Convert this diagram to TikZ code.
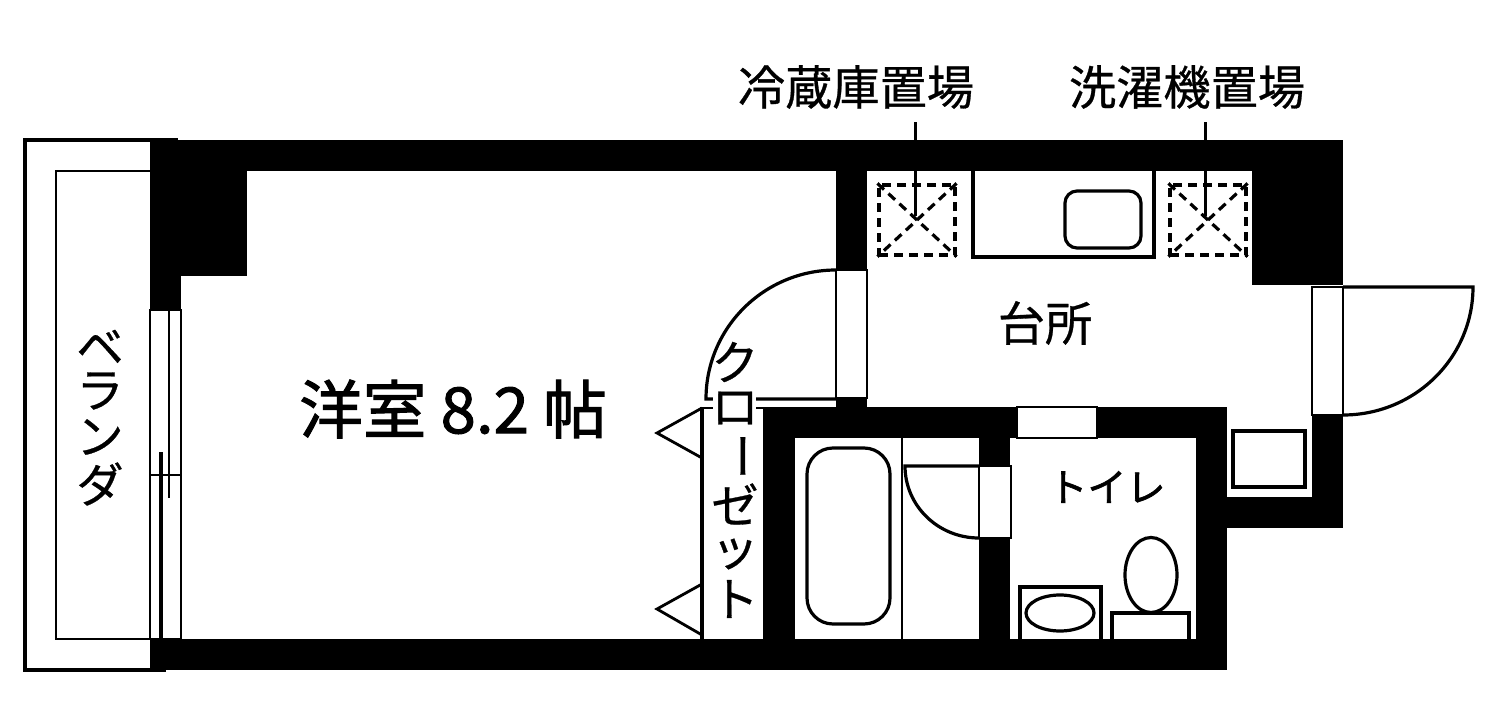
\documentclass[tikz,border=0pt]{standalone}
\usepackage{fontspec}
\newfontfamily\jpfont[FakeBold=0.6]{Noto Sans CJK JP}
\newfontfamily\jpheavyfont[FakeBold=1.6]{Noto Sans CJK JP}
\tikzset{
	wall/.style={fill=black},
	thinline/.style={draw=black, line width=1.4pt},
	fixture/.style={draw=black, line width=1.6pt},
	frame/.style={draw=black, line width=1.4pt, fill=white},
	dashline/.style={draw=black, line width=1.6pt, dash pattern=on 4.5pt off 3pt},
	jplabel/.style={inner sep=0pt, font=\jpfont\fontsize{23.6}{28}\selectfont},
	bigjplabel/.style={inner sep=0pt, font=\jpheavyfont\fontsize{31.8}{38}\selectfont},
	smalljplabel/.style={inner sep=0pt, font=\jpheavyfont\fontsize{19.5}{23}\selectfont}
}
\begin{document}
\begin{tikzpicture}[x=0.5pt, y=-0.5pt]
	\useasboundingbox (0,0) rectangle (1500,712);

	\draw[fixture] (178,140) -- (25,140) -- (25,670) -- (166,670);
	\draw[thinline] (150,171) -- (56,171) -- (56,639) -- (150,639);

	\foreach \xa/\ya/\xb/\yb in {150/140/1343/171, 150/140/247/276, 150/276/181/310, 150/639/1227/670,
			836/171/867/270, 836/398/867/407, 763/407/1227/438, 763/407/795/639,
			979/438/1010/466, 979/538/1010/639, 1196/407/1227/670,
			1227/497/1343/528, 1312/415/1343/528, 1252/171/1343/285}
		\fill[wall] (\xa,\ya) rectangle (\xb,\yb);

	\draw[frame] (150,310) rectangle (181,639);
	\draw[thinline] (169,310) -- (169,498);
	\draw[fixture] (161,452) -- (161,639);
	\draw[thinline] (150,475) -- (181,475);

	\draw[frame] (836,270) rectangle (867,398);
	\draw[fixture] (836,399) -- (706,399) arc[start angle=180, end angle=270, x radius=130, y radius=129];
	\draw[frame] (1312,287) rectangle (1343,415);
	\draw[fixture] (1343,415) arc[start angle=90, end angle=0, x radius=130, y radius=128] -- (1343,287);
	\draw[frame] (979,466) rectangle (1011,538);
	\draw[fixture] (979,466) -- (905,466) arc[start angle=180, end angle=90, x radius=74, y radius=72];
	\draw[frame] (1017,407) rectangle (1097,438);

	\draw[fixture] (702,407) -- (702,639);
	\draw[thinline] (702,408) -- (763,408);
	\draw[thinline] (702,408) -- (657,433) -- (702,458);
	\draw[thinline] (702,584) -- (657,609) -- (702,635);
	\fill[white] (713,392) rectangle (756,431);

	\draw[thinline] (902,438) -- (902,639);
	\draw[fixture, rounded corners=13pt] (807,448) rectangle (890,624);

	\draw[fixture] (1020,639) -- (1020,587) -- (1101,587) -- (1101,639);
	\draw[fixture] (1060,613) ellipse[x radius=34, y radius=18];
	\draw[fixture] (1112,639) -- (1112,613) -- (1189,613) -- (1189,639);
	\draw[fixture] (1151,575) ellipse[x radius=26, y radius=37.5];
	\draw[fixture] (1233,431) rectangle (1305,487);

	\draw[fixture] (973,171) -- (973,257) -- (1154,257) -- (1154,171);
	\draw[fixture, rounded corners=6pt] (1065,191) rectangle (1141,248);

	\node[dashline, minimum width=38pt, minimum height=35pt, inner sep=0pt] (fridge) at (917,220) {};
	\node[dashline, minimum width=38pt, minimum height=35pt, inner sep=0pt] (washer) at (1208,220) {};
	\draw[dashline] (fridge.north west) -- (fridge.south east) (fridge.north east) -- (fridge.south west);
	\draw[dashline] (washer.north west) -- (washer.south east) (washer.north east) -- (washer.south west);

	\node[jplabel] (fridgelabel) at (856,87) {冷蔵庫置場};
	\node[jplabel] (washerlabel) at (1187,87) {洗濯機置場};
	\coordinate (fridgetop) at (915.5,122);
	\coordinate (fridgeend) at (915.5,216);
	\coordinate (washertop) at (1205.5,122);
	\coordinate (washerend) at (1205.5,216);
	\path (fridgetop) edge[thinline] (fridgeend)
	(washertop) edge[thinline] (washerend);

	\node[bigjplabel] (room) at (453,409) {洋室 8.2 帖};
	\node[jplabel] (kitchen) at (1045,323) {台所};
	\node[smalljplabel] (toilet) at (1107,487) {トイレ};

	\foreach \ch/\yy [count=\i] in {ベ/347, ラ/391, ン/437, ダ/484}
		\node[jplabel] (balcony\i) at (100,\yy) {\ch};
	\foreach \ch/\yy [count=\i] in {ク/362, ロ/408, {\rotatebox{-90}{ー}}/456, ゼ/504, ッ/554, ト/599}
		\node[jplabel] (closet\i) at (735,\yy) {\ch};
\end{tikzpicture}
\end{document}
